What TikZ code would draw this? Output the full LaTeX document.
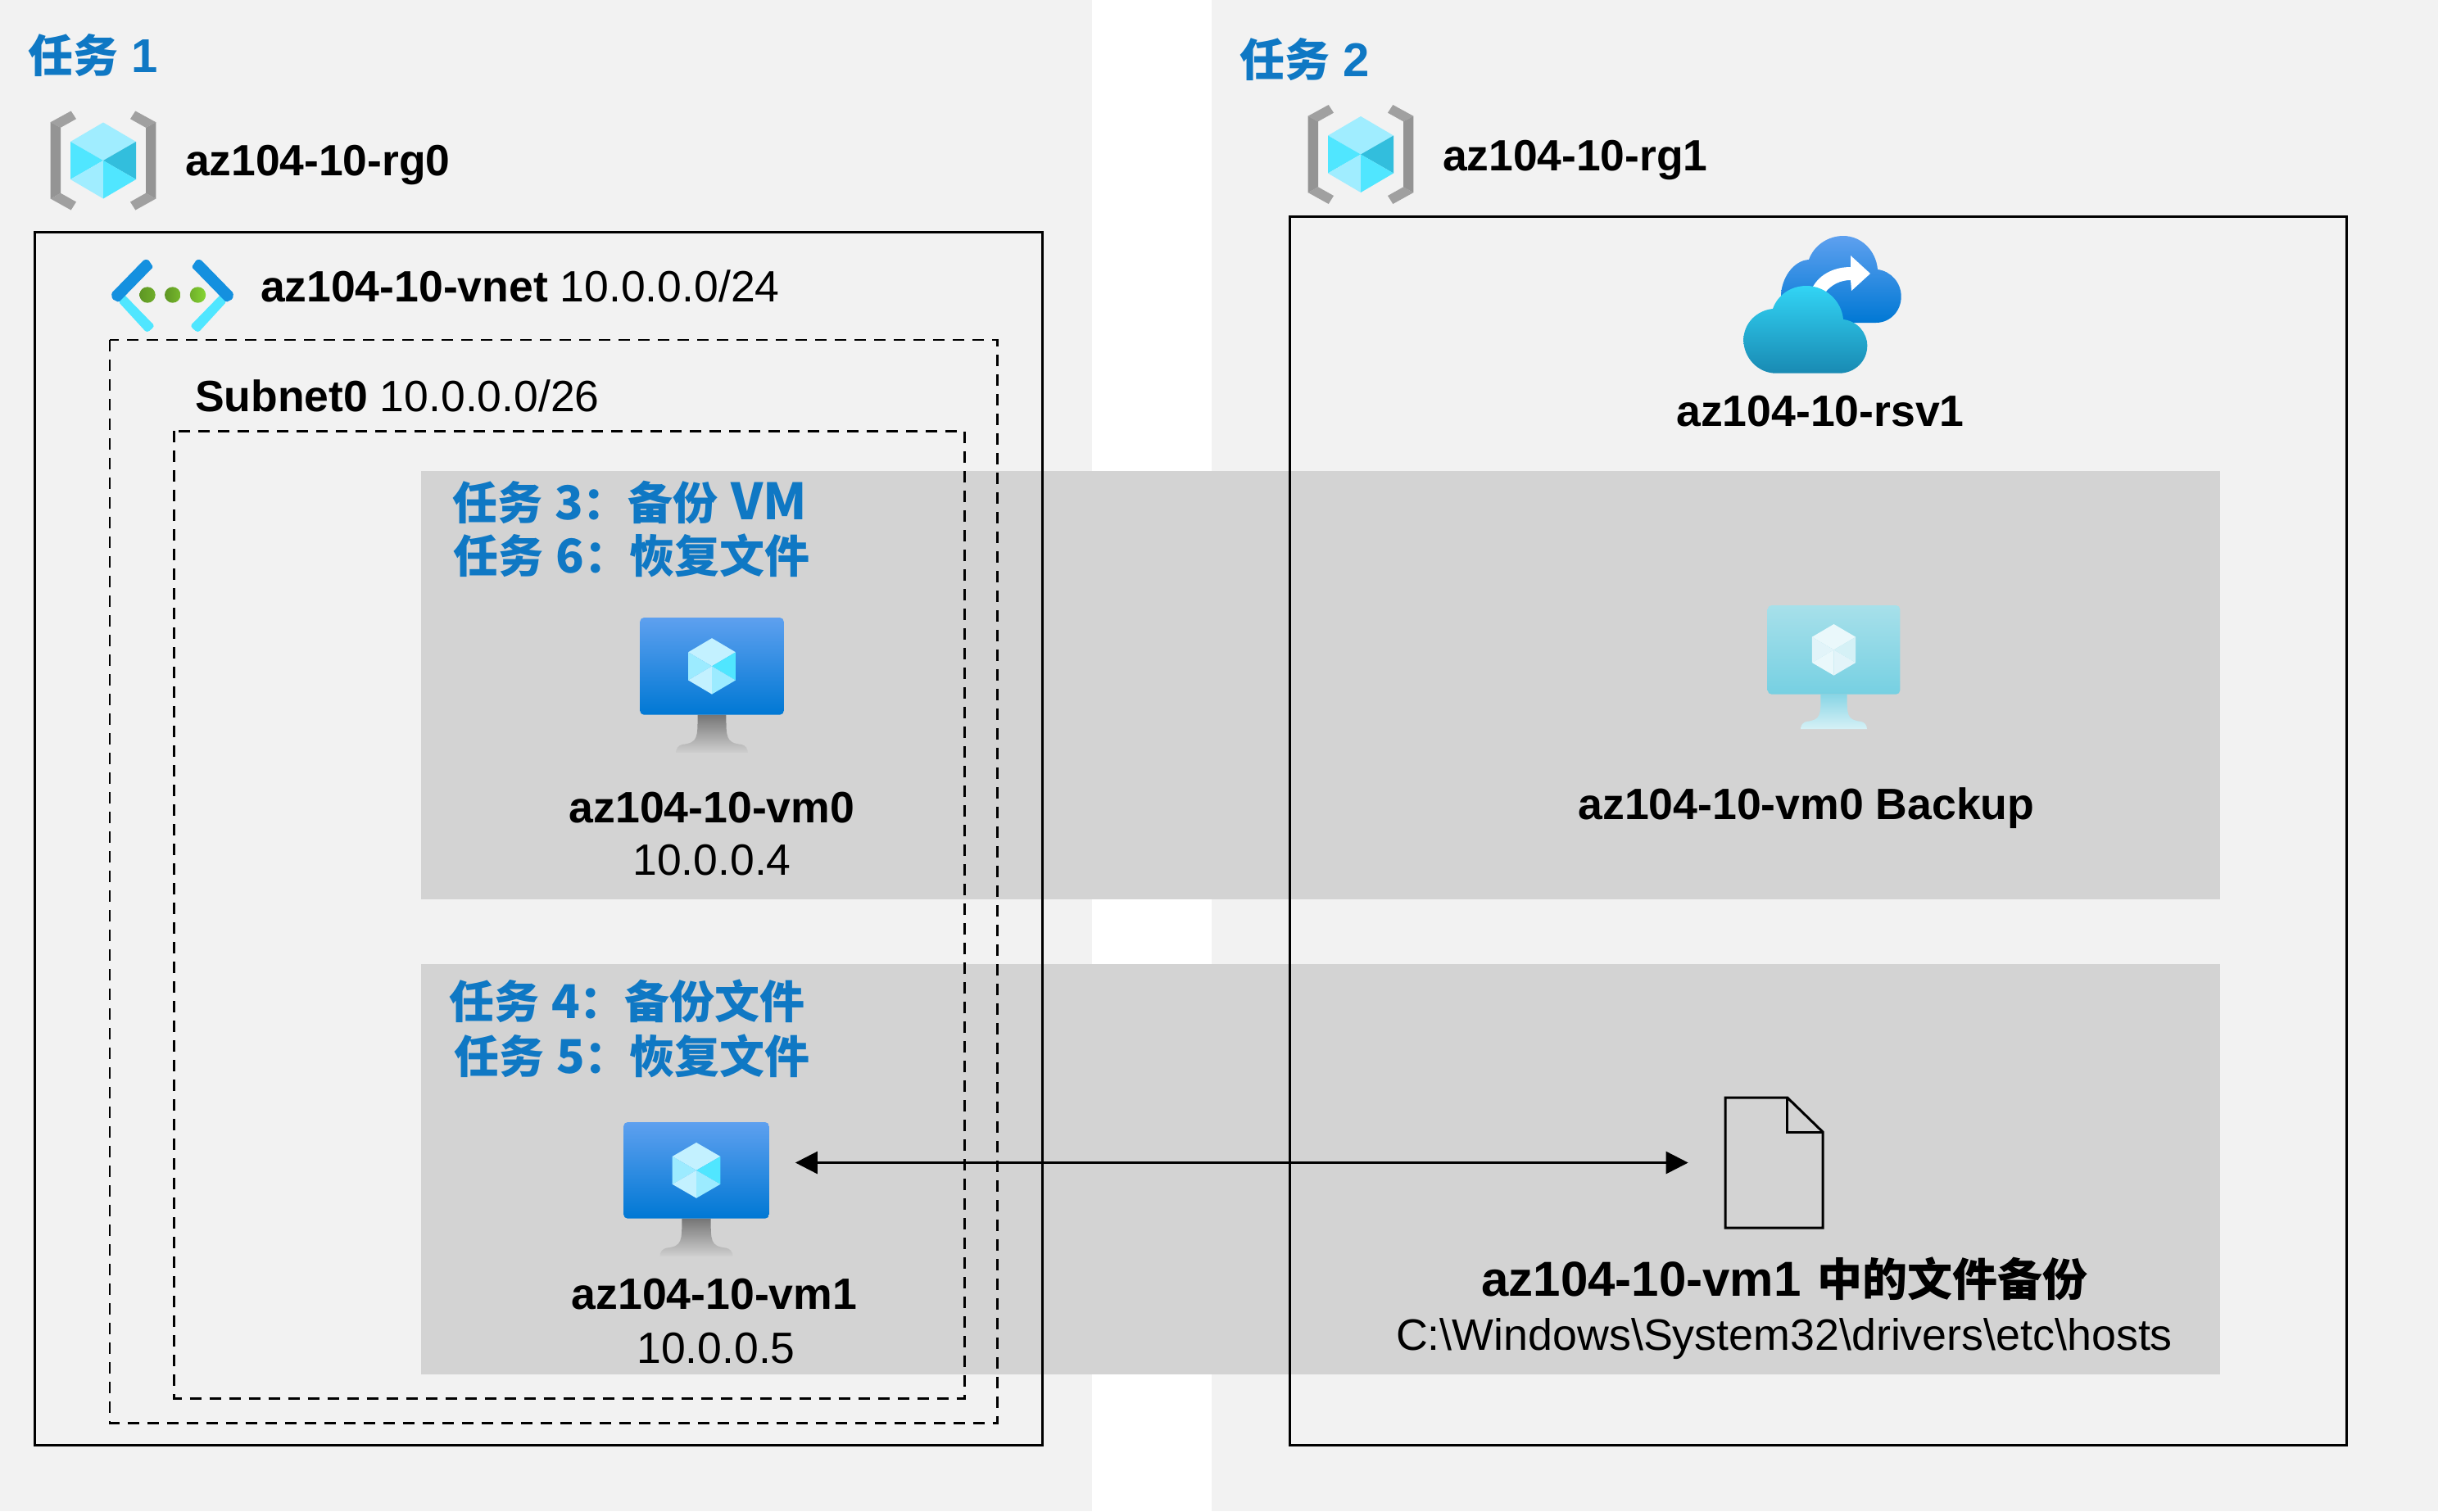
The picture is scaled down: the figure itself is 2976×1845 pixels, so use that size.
\documentclass[tikz,border=0pt]{standalone}
\usepackage{fontspec}
\setmainfont{Liberation Sans}
\newfontfamily\cjk{Noto Sans CJK SC}
\usetikzlibrary{arrows.meta}
\definecolor{panel}{HTML}{F2F2F2}
\definecolor{band}{HTML}{D3D3D3}
\definecolor{task}{HTML}{0F78C4}
\definecolor{cubeA}{HTML}{A0EDFF}
\definecolor{cubeB}{HTML}{50E6FF}
\definecolor{cubeC}{HTML}{32BEDD}
\definecolor{brkA}{HTML}{949494}
\definecolor{brkB}{HTML}{A0A0A0}
\definecolor{netdark}{HTML}{1490DF}
\definecolor{netlight}{HTML}{50E6FF}
\definecolor{dotA}{HTML}{5E9624}
\definecolor{dotB}{HTML}{6FAE2A}
\definecolor{dotC}{HTML}{76B82C}
\definecolor{dotD}{HTML}{86D633}
\definecolor{vaultA}{HTML}{5EA0EF}
\definecolor{vaultB}{HTML}{0078D4}
\definecolor{cloudA}{HTML}{32D4F5}
\definecolor{cloudM}{HTML}{32CDEE}
\definecolor{cloudB}{HTML}{198AB3}
\newcommand{\sz}[1]{\fontsize{#1}{#1}\selectfont}
\newcommand{\zh}[1]{{\cjk\bfseries #1}}
\newcommand{\tnum}[1]{\hspace{15pt}{\sz{57}#1}}
\newcommand{\arnum}[1]{\hspace{16pt}{\fontspec{Liberation Sans Bold}\sz{58}#1}}
\tikzset{
  x=1pt,y=-1pt,
  lbl/.style={inner sep=0pt,outer sep=0pt,anchor=base,font=\sz{53.5}},
  lblw/.style={lbl,anchor=base west},
  bld/.style={lbl,font=\sz{53.6}\bfseries},
  bldw/.style={lblw,font=\sz{53.4}\bfseries},
  tasklbl/.style={lblw,text=task,font=\sz{55}\cjk\bfseries},
  framebox/.style={draw=black,line width=3pt},
  dashbox/.style={draw=black,line width=2.8pt,dash pattern=on 14pt off 10pt},
  bandbox/.style={fill=band},
  link/.style={line width=2.7pt,{Triangle[length=27pt,width=27pt]}-{Triangle[length=27pt,width=27pt]}},
  filebox/.style={draw=black,line width=3pt,line join=miter},
  placeholder/.style={inner sep=0pt,outer sep=0pt,anchor=north west},
  vmscreen/.style={inner sep=0pt,outer sep=0pt,anchor=north,rounded corners=5pt,top color=vmtop,bottom color=vmbot}
}
% name, centre x, top y, screen width, screen height
\newcommand{\vmicon}[5]{%
  \begin{scope}[shift={(#2,#3)},xscale=#4/176,yscale=#5/118]
    \shade[top color=stA,bottom color=stB]
      (-17.5,118) .. controls (-17.5,145) and (-17,152) .. (-36,154)
      .. controls (-41,155) and (-44,159) .. (-44,164) -- (44,164)
      .. controls (44,159) and (41,155) .. (36,154)
      .. controls (17,152) and (17.5,145) .. (17.5,118) -- cycle;
  \end{scope}
  \node[vmscreen,name=#1,minimum width=#4pt,minimum height=#5pt] at (#2,#3) {};
  \begin{scope}[shift={(#2,#3)},xscale=#4/176,yscale=#5/118]
    \fill[fill=fcA] (0,25) -- (29,42) -- (0,59) -- (-29,42) -- cycle;
    \fill[fill=fcB] (-29,42) -- (0,59) -- (-29,76) -- cycle;
    \fill[fill=fcC] (29,42) -- (29,76) -- (0,59) -- cycle;
    \fill[fill=fcA] (-29,76) -- (0,59) -- (0,93) -- cycle;
    \fill[fill=fcB] (0,59) -- (29,76) -- (0,93) -- cycle;
  \end{scope}}
\newcommand{\vmnormal}{%
  \definecolor{vmtop}{HTML}{5EA0EF}\definecolor{vmbot}{HTML}{0078D4}
  \definecolor{stA}{HTML}{767676}\definecolor{stB}{HTML}{CFCFCF}
  \definecolor{fcA}{HTML}{C3F1FF}\definecolor{fcB}{HTML}{9CEBFF}\definecolor{fcC}{HTML}{50E6FF}}
\newcommand{\vmfaded}{%
  \definecolor{vmtop}{HTML}{A7E0EA}\definecolor{vmbot}{HTML}{76D0E2}
  \definecolor{stA}{HTML}{88D5E5}\definecolor{stB}{HTML}{D6F1F6}
  \definecolor{fcA}{HTML}{EAF8FB}\definecolor{fcB}{HTML}{E2F4F9}\definecolor{fcC}{HTML}{D5F1F6}}
% resource group icon at centre (#1,#2)
\newcommand{\rgicon}[2]{%
  \begin{scope}[shift={(#1,#2)}]
    \foreach \sx in {1,-1}{
      \begin{scope}[xscale=\sx]
        \fill[brkB] (-64.3,-46.8) -- (-39.3,-60.5) -- (-33,-50.8) -- (-52,-40.2) -- cycle;
        \fill[brkB] (-64.3,46.6) -- (-39.3,60.5) -- (-33,50.5) -- (-52,39.8) -- cycle;
        \fill[brkA] (-64.3,-46.8) -- (-52,-40.2) -- (-52,39.8) -- (-64.3,46.6) -- cycle;
      \end{scope}}
    \fill[cubeA] (0,-46.5) -- (40,-23) -- (0,0) -- (-40,-23) -- cycle;
    \fill[cubeB] (-40,-23) -- (0,0) -- (-40,23) -- cycle;
    \fill[cubeC] (40,-23) -- (40,23) -- (0,0) -- cycle;
    \fill[cubeA] (-40,23) -- (0,0) -- (0,46.5) -- cycle;
    \fill[cubeB] (0,0) -- (40,23) -- (0,46.5) -- cycle;
  \end{scope}}
\begin{document}
\begin{tikzpicture}
\useasboundingbox (0,0) rectangle (2976,1845);
% background panels
\fill[white] (0,0) rectangle (2976,1845);
\fill[panel] (0,0) rectangle (1333,1845);
\fill[panel] (1479,0) rectangle (2976,1845);
% grey bands
\fill[bandbox] (514,575) rectangle (2710,1098);
\fill[bandbox] (514,1177) rectangle (2710,1678);
% frames
\draw[framebox] (42,283) rectangle (1272.3,1764.3);
\draw[framebox] (1574,264.5) rectangle (2864.5,1764.3);
\draw[dashbox] (134,415) rectangle (1217.3,1737.3);
\draw[dashbox] (212.5,526.3) rectangle (1177.3,1707.3);
% resource group icons
\rgicon{126}{196}
\rgicon{1661}{188.5}
% vnet icon
\foreach \cx/\sx in {136/1,285/-1}{
  \begin{scope}[shift={(\cx,0)},xscale=\sx]
    \fill[netlight,rounded corners=1.5pt] (9,369) -- (16,360) -- (52,397) -- (51,400) -- (45,405) -- (42,405) -- cycle;
    \fill[netdark,rounded corners=1.5pt] (0,358) -- (40,317) -- (45,317) -- (51,326) -- (9,369) -- (1,365) -- cycle;
  \end{scope}}
\shade[left color=dotA,right color=dotB] (180,360) circle[radius=9.7pt];
\shade[left color=dotA,right color=dotC] (210.7,360) circle[radius=9.7pt];
\shade[left color=dotB,right color=dotD] (241.5,360) circle[radius=9.7pt];
% vault icon
\shade[top color=vaultA,bottom color=vaultB]
  (2206,394) .. controls (2188,394) and (2174,380) .. (2174,362)
  .. controls (2174,340) and (2189,318) .. (2208,317)
  .. controls (2214,300) and (2231,288) .. (2250,288)
  .. controls (2272,288) and (2290,306) .. (2292,329)
  .. controls (2308,331) and (2320.7,345) .. (2320.7,362)
  .. controls (2320.7,380) and (2307,394) .. (2290,394) -- cycle;
\fill[white] (2213,350) .. controls (2222,334) and (2240,326) .. (2259,326)
  -- (2259,312) -- (2283,334) -- (2260,355) -- (2259,342)
  .. controls (2247,342) and (2236,347) .. (2228,357) -- cycle;
\shade[top color=cloudA,middle color=cloudM,bottom color=cloudB]
  (2168,455.7) .. controls (2146,455.7) and (2128.3,437) .. (2128.3,415)
  .. controls (2128.3,395) and (2144,379) .. (2164,377)
  .. controls (2170,360) and (2186,349) .. (2205,349)
  .. controls (2228,349) and (2248,367) .. (2250,390)
  .. controls (2267,392) and (2279.3,406) .. (2279.3,422)
  .. controls (2279.3,441) and (2264,455.7) .. (2245,455.7) -- cycle;
% VM icons
\vmnormal
\vmicon{vmzero}{869}{754}{175.6}{118.7}
\vmicon{vmone}{850}{1370}{177.7}{117.7}
\vmfaded
\vmicon{vmbackup}{2238.5}{739}{161.7}{108.7}
% file icon
\node[placeholder,name=file,minimum width=119pt,minimum height=159pt] at (2106,1340) {};
\draw[filebox] (2106,1340) -- (2181.7,1340) -- (2225,1382) -- (2225,1499) -- (2106,1499) -- cycle;
\draw[filebox] (2181.7,1340) -- (2181.7,1382) -- (2225,1382);
% connector
\draw[link,shorten <=32pt,shorten >=45.3pt] (vmone.east |- file.west) -- (file.west);
% labels
\node[tasklbl,name=taskA] at (34.5,88.5) {任务\arnum{1}};
\node[tasklbl,name=taskB] at (1513.5,93.5) {任务\arnum{2}};
\node[bldw,name=rgzero] at (226,214.5) {az104-10-rg0};
\node[bldw,name=rgone] at (1761,208) {az104-10-rg1};
\node[lblw,name=vnetlbl] at (318,368) {\textbf{az104-10-vnet} 10.0.0.0/24};
\node[lblw,name=subnetlbl] at (238,502) {\textbf{Subnet0} 10.0.0.0/26};
\node[bld,name=rsvlbl] at (2222,520) {az104-10-rsv1};
\node[tasklbl,name=taskC] at (552,634.5) {任务\tnum{3}：备份\hspace{16pt}{\sz{61}VM}};
\node[tasklbl,name=taskF] at (553.6,699.5) {任务\tnum{6}：恢复文件};
\node[tasklbl,name=taskD] at (548,1243.5) {任务\tnum{4}：备份文件};
\node[tasklbl,name=taskE] at (554,1310.5) {任务\tnum{5}：恢复文件};
\node[bld,name=vmzerolbl] at (869,1004) {az104-10-vm0};
\node[lbl,name=vmzeroip] at (869,1068) {10.0.0.4};
\node[bld,name=backuplbl] at (2205,1000) {az104-10-vm0 Backup};
\node[bld,name=vmonelbl] at (872,1598) {az104-10-vm1};
\node[lbl,name=vmoneip] at (874,1664) {10.0.0.5};
\node[lbl,name=filelbl,font=\bfseries] at (2178.5,1582) {{\sz{60}az104-10-vm1}\hspace{20pt}{\sz{55}\zh{中的文件备份}}};
\node[lbl,name=pathlbl,font=\sz{53.8}] at (2178,1648) {C:\textbackslash Windows\textbackslash System32\textbackslash drivers\textbackslash etc\textbackslash hosts};
\end{tikzpicture}
\end{document}
